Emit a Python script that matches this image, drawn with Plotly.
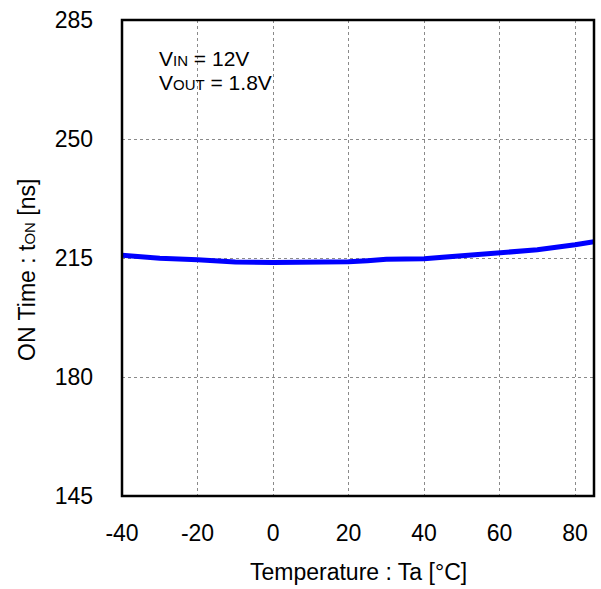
import plotly.graph_objects as go

# ON time versus ambient temperature (VIN = 12 V, VOUT = 1.8 V)
temperature_c = [-40, -30, -20, -10, 0, 10, 20, 25, 30, 40, 50, 60, 70, 80, 85]
on_time_ns = [215.8, 214.9, 214.5, 213.8, 213.7, 213.7, 213.9, 214.2, 214.6, 214.8,
              215.6, 216.3, 217.4, 218.9, 219.8]

x_ticks = [-40, -20, 0, 20, 40, 60, 80]
x_tick_labels = ["-40", "-20", "0", "20", "40", "60", "80"]
y_ticks = [145, 180, 215, 250, 285]

FONT = "Liberation Sans, Arial, sans-serif"
SIZE = 23
SUB = "<span style='font-size:15px'>{}</span>"

fig = go.Figure()
fig.add_trace(go.Scatter(
    x=temperature_c, y=on_time_ns, mode="lines",
    line=dict(color="#0000ff", width=5), showlegend=False,
))

axis_common = dict(
    showgrid=True, gridcolor="#8a8a8a", gridwidth=1, griddash="dot",
    zeroline=False, showline=False, ticks="",
    tickfont=dict(family=FONT, size=SIZE, color="#000000"),
)
fig.update_xaxes(range=[-40, 85], tickvals=x_ticks, ticktext=x_tick_labels,
                 ticklabelstandoff=21, **axis_common)
fig.update_yaxes(range=[145, 285], tickvals=y_ticks, ticklabelstandoff=28, **axis_common)

# plot frame
fig.add_shape(type="rect", xref="paper", yref="paper", x0=0, y0=0, x1=1, y1=1,
              line=dict(color="#000000", width=2.5), layer="above")

text_font = dict(family=FONT, size=SIZE, color="#000000")
cond_font = dict(family=FONT, size=21, color="#000000")
fig.add_annotation(xref="paper", yref="paper", x=0.5, y=0, yshift=-76,
                   xanchor="center", yanchor="middle",
                   text="Temperature : Ta [°C]", showarrow=False, font=text_font)
fig.add_annotation(xref="paper", yref="paper", x=0, y=0.475, xshift=-95,
                   xanchor="center", yanchor="middle",
                   text="ON Time : t" + SUB.format("ON") + " [ns]", textangle=-90,
                   showarrow=False, font=text_font)
fig.add_annotation(xref="paper", yref="paper", x=0, y=1, xshift=35, yshift=-38,
                   xanchor="left", yanchor="middle",
                   text="V" + SUB.format("IN") + " = 12V",
                   showarrow=False, font=cond_font)
fig.add_annotation(xref="paper", yref="paper", x=0, y=1, xshift=35, yshift=-62,
                   xanchor="left", yanchor="middle",
                   text="V" + SUB.format("OUT") + " = 1.8V",
                   showarrow=False, font=cond_font)

fig.update_layout(
    width=601, height=589,
    margin=dict(l=122, r=7, t=14, b=93),
    paper_bgcolor="#ffffff", plot_bgcolor="#ffffff",
)

fig.write_html("out.html")
